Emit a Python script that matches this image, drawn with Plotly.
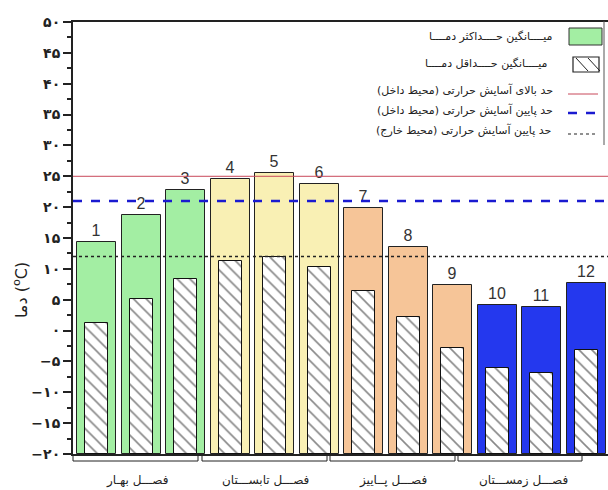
import plotly.graph_objects as go

# ---------------- data ----------------
months = list(range(1, 13))
month_labels = [str(m) for m in months]
max_temp = [14.3, 18.8, 22.8, 24.5, 25.6, 23.8, 19.9, 13.5, 7.4, 4.2, 3.9, 7.7]
min_temp = [1.2, 5.1, 8.3, 11.2, 11.9, 10.3, 6.4, 2.2, -2.8, -6.1, -6.8, -3.2]
bar_colors = ["#a3eea3", "#a3eea3", "#a3eea3",
              "#f9f0b4", "#f9f0b4", "#f9f0b4",
              "#f6c598", "#f6c598", "#f6c598",
              "#2438ee", "#2438ee", "#2438ee"]
upper_indoor = 25
lower_indoor = 21
lower_outdoor = 12
axis_base = -20
y_ticks = [-20, -15, -10, -5, 0, 5, 10, 15, 20, 25, 30, 35, 40, 45, 50]
y_ticktext = ["−۲۰", "−۱۵", "−۱۰", "−۵", "۰", "۵", "۱۰", "۱۵", "۲۰", "۲۵", "۳۰", "۳۵", "۴۰", "۴۵", "۵۰"]
seasons = ["فصـــل بهـار", "فصـــل تابســـتان", "فصـــل پــاییز", "فصـــل زمســـتان"]
legend_texts = ["میــــانگین حــــداکثر دمــــا",
                "میــــانگین حــــداقل دمــــا",
                "حد بالای آسایش حرارتی (محیط داخل)",
                "حد پایین آسایش حرارتی (محیط داخل)",
                "حد پایین آسایش حرارتی (محیط خارج)"]

FA = "DejaVu Sans"
W, H = 608, 490
L, R, T, B = 73, 0, 22, 36
PW, PH = W - L - R, H - T - B


def px(x):
    return (x - L) / PW


def py(y):
    return (H - B - y) / PH


fig = go.Figure()
fig.add_trace(go.Bar(
    x=months, y=[v - axis_base for v in max_temp], base=axis_base,
    width=0.88, marker=dict(color=bar_colors, line=dict(color="#222222", width=1)),
    text=month_labels, textposition="outside",
    textfont=dict(family="Liberation Sans", size=16, color="#333333"),
    cliponaxis=False, showlegend=False))
fig.add_trace(go.Bar(
    x=months, y=[v - axis_base for v in min_temp], base=axis_base,
    width=0.52,
    marker=dict(color="white", line=dict(color="#111111", width=1),
                pattern=dict(shape="\\", fgcolor="#111111", bgcolor="white",
                             size=9, solidity=0.18)),
    showlegend=False))

shapes = []
# comfort lines
shapes.append(dict(type="line", xref="paper", x0=0, x1=1, yref="y", y0=upper_indoor, y1=upper_indoor,
                   line=dict(color="#c8485a", width=1)))
shapes.append(dict(type="line", xref="paper", x0=0, x1=1, yref="y", y0=lower_indoor, y1=lower_indoor,
                   line=dict(color="#1a1ad0", width=2.5, dash="dash")))
shapes.append(dict(type="line", xref="paper", x0=0, x1=1, yref="y", y0=lower_outdoor, y1=lower_outdoor,
                   line=dict(color="#222222", width=1.5, dash="dot")))

# season brackets
brackets = [(73, 198), (202, 327), (330, 455), (458, 582)]
for a, b in brackets:
    shapes.append(dict(type="path", xref="paper", yref="paper",
                       path=f"M {px(a)} {py(456)} L {px(a)} {py(461)} L {px(b)} {py(461)} L {px(b)} {py(456)}",
                       line=dict(color="#222222", width=1)))

# legend
shapes.append(dict(type="rect", xref="paper", yref="paper", x0=px(569), x1=px(602), y0=py(45), y1=py(28),
                   fillcolor="#a3eea3", line=dict(color="#333333", width=1)))
shapes.append(dict(type="rect", xref="paper", yref="paper", x0=px(573), x1=px(599), y0=py(72), y1=py(57),
                   fillcolor="white", line=dict(color="#222222", width=1.2)))
for x0 in (576, 588):
    shapes.append(dict(type="line", xref="paper", yref="paper", x0=px(x0), y0=py(58), x1=px(x0 + 12), y1=py(71),
                       line=dict(color="#222222", width=1)))
shapes.append(dict(type="line", xref="paper", yref="paper", x0=px(568), x1=px(598), y0=py(94), y1=py(94),
                   line=dict(color="#c8485a", width=1)))
shapes.append(dict(type="line", xref="paper", yref="paper", x0=px(568), x1=px(598), y0=py(113), y1=py(113),
                   line=dict(color="#1a1ad0", width=2.5, dash="dash")))
shapes.append(dict(type="line", xref="paper", yref="paper", x0=px(568), x1=px(598), y0=py(134), y1=py(134),
                   line=dict(color="#222222", width=1.2, dash="dot")))
shapes.append(dict(type="line", xref="paper", yref="paper", x0=px(604), x1=px(604), y0=py(21), y1=py(145),
                   line=dict(color="#555555", width=1)))

annotations = []
legend_y = [36, 64, 90, 110, 130]
legend_right = [555, 550, 555, 555, 553]
for t, yy, xr in zip(legend_texts, legend_y, legend_right):
    annotations.append(dict(text=t, xref="paper", yref="paper", x=px(xr), y=py(yy),
                            xanchor="right", yanchor="middle", showarrow=False,
                            font=dict(family=FA, size=11, color="#222222")))
season_x = [137, 265, 393, 523]
for t, xx in zip(seasons, season_x):
    annotations.append(dict(text=t, xref="paper", yref="paper", x=px(xx), y=py(480),
                            xanchor="center", yanchor="middle", showarrow=False,
                            font=dict(family=FA, size=12, color="#222222")))
annotations.append(dict(text="دما (<sup>o</sup>C)", xref="paper", yref="paper", x=px(20), y=py(290),
                        xanchor="center", yanchor="middle", textangle=-90, showarrow=False,
                        font=dict(family=FA, size=16, color="#222222")))

fig.update_layout(
    width=W, height=H, margin=dict(l=L, r=R, t=T, b=B),
    paper_bgcolor="white", plot_bgcolor="white",
    barmode="overlay", bargap=0,
    shapes=shapes, annotations=annotations,
    xaxis=dict(range=[0.47, 12.49], showline=True, linecolor="#222222", linewidth=2,
               mirror=True, showticklabels=False, ticks="", showgrid=False, zeroline=False),
    yaxis=dict(range=[-20, 50], tickvals=y_ticks, ticktext=y_ticktext,
               showline=True, linecolor="#222222", linewidth=2, ticks="outside",
               ticklen=8, tickwidth=2, tickcolor="#222222",
               minor=dict(dtick=2.5, ticks="outside", ticklen=4, tickwidth=1.5, tickcolor="#222222",
                          showgrid=False),
               showgrid=False, zeroline=False,
               tickfont=dict(family=FA, size=14, color="#222222", weight="bold")),
)

fig.write_html("out.html", config={"displayModeBar": False},
               post_script="document.body.style.margin='0px';")
